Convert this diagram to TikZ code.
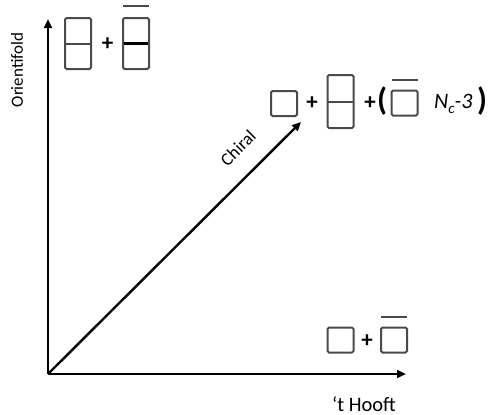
\documentclass[tikz,border=0pt]{standalone}
\usepackage{fontspec}
\setmainfont{Carlito}
\usetikzlibrary{arrows.meta}
\definecolor{boxgray}{HTML}{4A4A4A}
\tikzset{
  axis/.style={line width=2.4pt, -{Triangle[length=9pt,width=8pt]}},
  sqbox/.style={draw=boxgray, line width=2pt, rounded corners=1.5pt, minimum width=26pt, minimum height=25pt, inner sep=0pt},
  dbox/.style={sqbox, minimum height=51pt, path picture={\draw[boxgray,line width=2pt] (path picture bounding box.west) -- (path picture bounding box.east);}},
  dboxthick/.style={sqbox, minimum height=51pt, path picture={\draw[black,line width=2.8pt] (path picture bounding box.west) -- (path picture bounding box.east);}},
  barline/.style={boxgray, line width=2pt},
  plus/.style={inner sep=0pt, font=\fontsize{23}{25}\selectfont\bfseries},
  lbl/.style={inner sep=0pt, font=\fontsize{17}{19}\selectfont},
}
\begin{document}
\begin{tikzpicture}[x=1pt,y=-1pt]
\useasboundingbox (0,0) rectangle (491,415);
% axes
\coordinate (O) at (48,374);
\coordinate (Ytip) at (48,19);
\coordinate (Xtip) at (406,374);
\coordinate (Dtip) at (301,122);
\draw[axis] (O) -- (Ytip);
\draw[axis] (O) -- (Xtip);
\draw[axis] (O) -- (Dtip);
% labels
\node[lbl, rotate=90] (orient) at (17,70) {Orientifold};
\node[lbl, font=\fontsize{20.5}{22}\selectfont] (thooft) at (364,404) {‘t Hooft};
\node[lbl, font=\fontsize{18}{20}\selectfont, rotate=45] (chiral) at (238,148) {Chiral};
% top-left representation
\node[dbox] (tl1) at (78,43.5) {};
\node[plus] (tlp) at (107.5,44) {+};
\node[dboxthick] (tl2) at (136,43.5) {};
\draw[barline] ([xshift=1pt,yshift=11pt]tl2.north west) -- ([xshift=-1pt,yshift=11pt]tl2.north east);
% middle representation
\node[sqbox] (m1) at (284,103.5) {};
\node[plus] (mp1) at (312,103) {+};
\node[dbox, minimum height=53pt] (m2) at (340.5,101.5) {};
\node[plus] (mp2) at (370,103) {+};
\node[inner sep=0pt, font=\fontsize{32}{34}\selectfont\bfseries] (lp) at (382,101) {(};
\node[sqbox] (m3) at (404.5,103) {};
\draw[barline] ([xshift=1pt,yshift=10pt]m3.north west) -- ([xshift=-1pt,yshift=10pt]m3.north east);
\node[inner sep=0pt, font=\fontsize{22}{24}\selectfont\itshape, anchor=west] (nc) at (434,104) {N\raisebox{-0.4ex}{\fontsize{15}{17}\selectfont c}-3};
\node[inner sep=0pt, font=\fontsize{32}{34}\selectfont\bfseries] (rp) at (482,101) {)};
% bottom representation
\node[sqbox] (b1) at (340.5,340) {};
\node[plus] (bp) at (367,341) {+};
\node[sqbox] (b2) at (394,340) {};
\draw[barline] ([xshift=1pt,yshift=10pt]b2.north west) -- ([xshift=-1pt,yshift=10pt]b2.north east);
\end{tikzpicture}
\end{document}
